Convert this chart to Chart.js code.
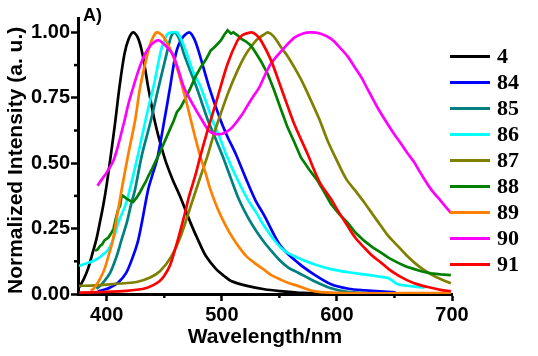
<!DOCTYPE html>
<html><head><meta charset="utf-8">
<script src="https://cdn.jsdelivr.net/npm/chart.js@4/dist/chart.umd.min.js"></script>
<style>html,body{margin:0;padding:0;background:#fff}#wrap{width:538px;height:356px}</style>
</head><body><div id="wrap"><canvas id="c" width="538" height="356"></canvas></div>
<script>
const seriesLabels = ['4','84','85','86','87','88','89','90','91'];
const seriesColors = ['#000000','#0000ff','#008080','#00ffff','#808000','#008000','#ff8000','#ff00ff','#ff0000'];
const xMajorTicks = [400,500,600,700];
const xMinorTicks = [450,550,650];
const yMajorTicks = [0,0.25,0.5,0.75,1.0];
const yMinorTicks = [0.125,0.375,0.625,0.875];

const wl_4 = [376,380,384,387,391,394,397,400,403.5,407.5,411,415.4,419,423,427,431,436,441,446,451,457,464,473,480,486,495,502,508,522,537,551,570,600,650];
const in_4 = [0.025,0.057,0.10,0.146,0.21,0.273,0.34,0.42,0.53,0.663,0.79,0.918,0.975,1.0,0.98,0.918,0.79,0.675,0.585,0.51,0.44,0.37,0.27,0.20,0.146,0.095,0.069,0.05,0.031,0.018,0.011,0.004,0.001,0.0];

const wl_84 = [391,394,399,403,410,417,423,427,430.5,436,440,444,450,455,460,465,471.5,476,480.5,489,499,505,512,521,529,537,551,566,580,595,610,624,651];
const in_84 = [0.005,0.012,0.018,0.025,0.044,0.082,0.146,0.2,0.273,0.40,0.46,0.52,0.663,0.79,0.918,0.975,1.0,0.975,0.918,0.79,0.663,0.6,0.536,0.44,0.36,0.299,0.184,0.12,0.075,0.037,0.02,0.014,0.006];

const wl_85 = [391,395.5,403,408.7,413,417.4,421,424.6,430.4,438.3,445,452,456,459,463,467,478,488,494,500.5,508,515,523,530,537,544,551,558,566,580,595,609,632];
const in_85 = [0.02,0.037,0.082,0.146,0.21,0.273,0.34,0.40,0.529,0.663,0.79,0.918,0.985,1.0,0.975,0.918,0.79,0.663,0.6,0.529,0.44,0.36,0.29,0.24,0.197,0.16,0.126,0.1,0.082,0.05,0.022,0.008,0.002];

const wl_86 = [376,380,388.4,395.6,401.5,405.8,410,416,420,427,431,435,441,447,450,453,457,461,465,469.6,475,481.7,492,498,504,512,522.3,530,536.8,544,551.3,558,565.8,580.3,594.8,610,623.8,636,644,648.4,652.8,664,676];
const in_86 = [0.107,0.114,0.126,0.146,0.171,0.21,0.273,0.337,0.40,0.529,0.61,0.69,0.80,0.93,0.97,0.995,1.0,1.0,0.97,0.918,0.85,0.79,0.663,0.6,0.53,0.452,0.363,0.31,0.26,0.215,0.177,0.155,0.139,0.114,0.095,0.083,0.075,0.067,0.062,0.05,0.037,0.03,0.024];

const wl_87 = [376,390,403,415,426,437.7,446.4,455.6,464.3,473,481.7,487.6,493,499,506,513.6,520,525.2,531,536.8,540,545,551.3,557,562.9,570,577.4,585,591.9,600,608,616,623.8,631,638.3,645,652.8,660,667.3,674,681.8,690,699];
const in_87 = [0.031,0.033,0.037,0.041,0.046,0.063,0.088,0.14,0.222,0.337,0.452,0.529,0.61,0.689,0.775,0.854,0.91,0.944,0.975,0.992,1.0,0.985,0.944,0.91,0.867,0.81,0.74,0.665,0.586,0.51,0.44,0.395,0.35,0.305,0.26,0.22,0.184,0.15,0.12,0.097,0.075,0.057,0.041];

const wl_88 = [389.8,392,394.2,396,398,401.4,403.5,405.8,408,410,411.6,413,415,417,420.3,423,426.1,429,431.9,434,436.2,439,442,445,448,451,455.6,458,460.9,464.3,468,473,477,481.7,486,490.4,494,499.1,502,505,508,510,513.6,517,521,525.2,529,534,540,545.5,551,557.1,563,568.7,576,583.2,589,594.8,602,609.3,616,623.8,631,638.3,645,652.8,660,667.3,674,681.8,690,699];
const in_88 = [0.165,0.17,0.184,0.19,0.205,0.216,0.23,0.248,0.29,0.325,0.337,0.378,0.372,0.365,0.356,0.352,0.369,0.39,0.414,0.43,0.452,0.475,0.503,0.53,0.56,0.59,0.637,0.66,0.695,0.714,0.745,0.79,0.83,0.867,0.895,0.931,0.945,0.969,0.99,1.008,0.995,1.0,0.989,0.975,0.965,0.95,0.925,0.89,0.84,0.778,0.71,0.637,0.58,0.522,0.475,0.433,0.39,0.344,0.305,0.273,0.235,0.203,0.178,0.158,0.138,0.12,0.105,0.095,0.086,0.079,0.075,0.072];

const wl_89 = [386,388.5,391,394,398,401.5,405,408,413,418.5,424.6,429,435.4,439,443.5,449,455.6,460,465.8,470,475,481,486,490,496,502,508,514,521,528,536,543,551,558,566,580,595,620,660,699];
const in_89 = [0.012,0.02,0.035,0.057,0.095,0.146,0.2,0.273,0.40,0.53,0.663,0.79,0.918,0.97,1.0,0.985,0.931,0.88,0.79,0.72,0.63,0.53,0.46,0.40,0.33,0.273,0.225,0.185,0.146,0.12,0.095,0.072,0.055,0.042,0.031,0.011,0.005,0.003,0.003,0.003];

const wl_90 = [392,396,400,405.8,410,415.4,419,423,427.5,433.3,438,441,445,451,457,462,467,474.5,483,488.6,494,500,504,509,518,525,532.5,538,542.6,548,554,563,570,577,586,595,603,609,615,621,627,635.6,644,650,655.6,661,667,673,681.8,690.4,699];
const in_90 = [0.414,0.44,0.465,0.51,0.57,0.663,0.73,0.79,0.854,0.918,0.95,0.962,0.97,0.95,0.918,0.86,0.79,0.727,0.663,0.625,0.612,0.612,0.62,0.637,0.689,0.74,0.79,0.842,0.88,0.91,0.94,0.98,0.995,1.0,0.995,0.975,0.94,0.91,0.87,0.83,0.78,0.71,0.65,0.61,0.575,0.54,0.505,0.46,0.40,0.355,0.31];

const wl_91 = [376,400,417,432,440,446,450,455,460,464.3,468,471.6,477.4,481.5,487.6,496.3,505,513.6,518,522.3,526,530,534,542.6,551.3,557,562.9,574.5,584.7,594.8,602,609.3,616,623.8,631,638.3,645,652.8,660,667.3,674,681.8,690,699];
const in_91 = [0.005,0.008,0.012,0.02,0.033,0.05,0.07,0.11,0.18,0.248,0.31,0.375,0.46,0.53,0.625,0.752,0.88,0.969,0.99,0.997,1.0,0.99,0.969,0.895,0.79,0.72,0.65,0.535,0.43,0.363,0.31,0.26,0.215,0.177,0.145,0.12,0.095,0.072,0.055,0.041,0.032,0.024,0.016,0.011];

const allWl = [wl_4,wl_84,wl_85,wl_86,wl_87,wl_88,wl_89,wl_90,wl_91];
const allIn = [in_4,in_84,in_85,in_86,in_87,in_88,in_89,in_90,in_91];

const datasets = seriesLabels.map((lab,i)=>({
  label: lab,
  data: allWl[i].map((x,j)=>({x:x, y:allIn[i][j]})),
  borderColor: seriesColors[i],
  backgroundColor: seriesColors[i],
  borderWidth: 2.7,
  pointRadius: 0,
  fill: false,
  order: 20 - i,
  tension: lab === '88' ? 0 : 0.3
}));

const extras = {
  id: 'extras',
  afterDraw(chart){
    const ctx = chart.ctx, xs = chart.scales.x, ys = chart.scales.y, ca = chart.chartArea;
    ctx.save();
    ctx.strokeStyle = '#000'; ctx.lineWidth = 2.5;
    xMinorTicks.forEach(v=>{ const p = xs.getPixelForValue(v); ctx.beginPath(); ctx.moveTo(p, ca.bottom); ctx.lineTo(p, ca.bottom+4); ctx.stroke(); });
    yMinorTicks.forEach(v=>{ const p = ys.getPixelForValue(v); ctx.beginPath(); ctx.moveTo(ca.left, p); ctx.lineTo(ca.left-4, p); ctx.stroke(); });
    ctx.font = 'bold 22px "Liberation Serif", "Times New Roman", serif';
    ctx.textBaseline = 'middle';
    chart.data.datasets.forEach((ds,i)=>{
      const y = 56.5 + 26*i;
      ctx.strokeStyle = ds.borderColor; ctx.lineWidth = 3;
      ctx.beginPath(); ctx.moveTo(450, y); ctx.lineTo(490, y); ctx.stroke();
      ctx.fillStyle = '#000';
      ctx.fillText(ds.label, 497, y+1);
    });
    ctx.font = 'bold 18px "Liberation Sans", Arial, sans-serif';
    ctx.fillText('A)', 83, 16);
    ctx.restore();
  }
};

new Chart(document.getElementById('c'), {
  type: 'line',
  data: { datasets },
  options: {
    responsive: false, animation: false, devicePixelRatio: 1,
    layout: { padding: { top: 18, right: 86, left: 0, bottom: 0 } },
    plugins: { legend: { display: false }, tooltip: { enabled: false } },
    scales: {
      x: {
        type: 'linear', min: 375, max: 700,
        afterFit: s => { s.height = 62; },
        ticks: { stepSize: 100, includeBounds: false, color: '#000', padding: 2, maxRotation: 0,
          font: { family: '"Liberation Sans", Arial', size: 20, weight: 'bold' } },
        afterBuildTicks: s => { s.ticks = xMajorTicks.map(v=>({value:v})); },
        grid: { drawOnChartArea: false, drawTicks: true, tickLength: 7, tickWidth: 2.5, tickColor: '#000' },
        border: { color: '#000', width: 3 },
        title: { display: true, text: 'Wavelength/nm', color: '#000', padding: { top: 0, bottom: 6 },
          font: { family: '"Liberation Sans", Arial', size: 21, weight: 'bold' } }
      },
      y: {
        min: 0, max: 1.055,
        afterFit: s => { s.width = 78; },
        ticks: { stepSize: 0.25, includeBounds: false, color: '#000', padding: 1,
          callback: v => Number(v).toFixed(2),
          font: { family: '"Liberation Sans", Arial', size: 20, weight: 'bold' } },
        afterBuildTicks: s => { s.ticks = yMajorTicks.map(v=>({value:v})); },
        grid: { drawOnChartArea: false, drawTicks: true, tickLength: 7, tickWidth: 2.5, tickColor: '#000' },
        border: { color: '#000', width: 3 },
        title: { display: true, align: 'start', text: 'Normalized Intensity (a. u.)', color: '#000', padding: { top: 4, bottom: 0 },
          font: { family: '"Liberation Sans", Arial', size: 21, weight: 'bold' } }
      }
    }
  },
  plugins: [extras]
});
</script></body></html>
